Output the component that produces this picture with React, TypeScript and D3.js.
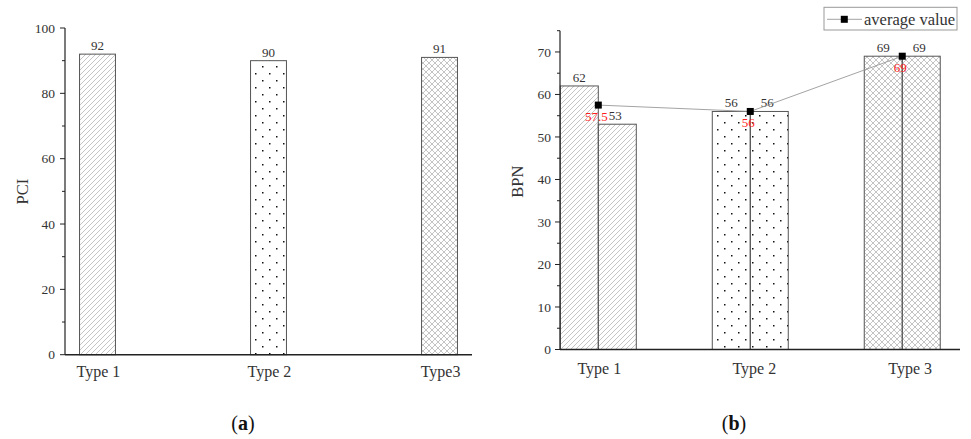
import React from "react";
import * as d3 from "d3";

const categoriesA = ["Type 1", "Type 2", "Type3"];
const pciValues = [92, 90, 91];
const yMajorA = [0, 20, 40, 60, 80, 100];
const yMinorA = [10, 30, 50, 70, 90];

const categoriesB = ["Type 1", "Type 2", "Type 3"];
const bpnFirst = [62, 56, 69];
const bpnSecond = [53, 56, 69];
const averageValues = [57.5, 56, 69];
const averageLabels = ["57.5", "56", "69"];
const yMajorB = [0, 10, 20, 30, 40, 50, 60, 70];
const yMinorB = [5, 15, 25, 35, 45, 55, 65, 75];

const patterns = ["diag", "dots", "cross"];
const FONT = "Liberation Serif, Times New Roman, serif";
const TXT = "#333";
const ts = { fontFamily: FONT };

export default function App() {
  // Panel (a)
  const xA = d3.scaleLinear().domain([0.81, 3.19]).range([65, 472]);
  const yA = d3.scaleLinear().domain([0, 100]).range([354.7, 28]);
  const bwA = xA(1.21) - xA(1);

  // Panel (b)
  const xB = d3.scaleLinear().domain([0.748, 3.38]).range([560, 960]);
  const yB = d3.scaleLinear().domain([0, 75]).range([349.5, 30.7]);
  const bwB = xB(1.25) - xB(1);

  const avgLine = d3
    .line<number>()
    .x((_, i) => xB(i + 1))
    .y((d) => yB(d));

  return (
    <svg
      width={971}
      height={439}
      style={{ position: "absolute", left: 0, top: 0, background: "#fff", fontFamily: FONT }}
    >
      <defs>
        <pattern id="diag" width={5} height={5} patternUnits="userSpaceOnUse">
          <path d="M-1,1 l2,-2 M0,5 l5,-5 M4,6 l2,-2" stroke="#aaa" strokeWidth={0.7} />
        </pattern>
        <pattern id="dots" width={14} height={14} patternUnits="userSpaceOnUse">
          <rect x={3} y={3} width={1.5} height={1.5} fill="#111" />
          <rect x={10} y={10} width={1.5} height={1.5} fill="#111" />
        </pattern>
        <pattern id="cross" width={6} height={6} patternUnits="userSpaceOnUse">
          <path
            d="M-1,1 l2,-2 M0,6 l6,-6 M5,7 l2,-2 M-1,5 l2,2 M0,0 l6,6 M5,-1 l2,2"
            stroke="#aaa"
            strokeWidth={0.7}
          />
        </pattern>
      </defs>

      {/* ===== Panel (a) ===== */}
      <g>
        {pciValues.map((v, i) => (
          <g key={i}>
            <rect
              x={xA(i + 1) - bwA / 2}
              y={yA(v)}
              width={bwA}
              height={yA(0) - yA(v)}
              fill={`url(#${patterns[i]})`}
              stroke="#555"
              strokeWidth={1}
            />
            <text style={ts}
              x={xA(i + 1)}
              y={yA(v) - 4}
              textAnchor="middle"
              fontSize={13}
              fill={TXT}
            >
              {v}
            </text>
          </g>
        ))}
        {/* axes */}
        <line x1={xA.range()[0]} x2={xA.range()[0]} y1={yA(0)} y2={yA(100)} stroke="#222" strokeWidth={1.2} />
        <line x1={xA.range()[0]} x2={xA.range()[1]} y1={yA(0)} y2={yA(0)} stroke="#222" strokeWidth={1.4} />
        {yMajorA.map((t) => (
          <g key={t}>
            <line x1={xA.range()[0] - 5} x2={xA.range()[0]} y1={yA(t)} y2={yA(t)} stroke="#222" />
            <text style={ts} x={xA.range()[0] - 10} y={yA(t)} dy="0.35em" textAnchor="end" fontSize={13.5} fill={TXT}>
              {t}
            </text>
          </g>
        ))}
        {yMinorA.map((t) => (
          <line key={t} x1={xA.range()[0] - 3} x2={xA.range()[0]} y1={yA(t)} y2={yA(t)} stroke="#222" />
        ))}
        {categoriesA.map((c, i) => (
          <text style={ts} key={c} x={xA(i + 1) + 1} y={377} textAnchor="middle" fontSize={16} fill={TXT}>
            {c}
          </text>
        ))}
        <text style={ts}
          transform={`translate(28,191.7) rotate(-90)`}
          textAnchor="middle"
          fontSize={16.5}
          fill={TXT}
        >
          PCI
        </text>
        <text style={ts} x={243} y={430} textAnchor="middle" fontSize={20} fill="#111">
          (<tspan fontWeight="bold">a</tspan>)
        </text>
      </g>

      {/* ===== Panel (b) ===== */}
      <g>
        {categoriesB.map((c, i) => (
          <g key={c}>
            <rect
              x={xB(i + 1) - bwB}
              y={yB(bpnFirst[i])}
              width={bwB}
              height={yB(0) - yB(bpnFirst[i])}
              fill={`url(#${patterns[i]})`}
              stroke="#555"
              strokeWidth={1}
            />
            <rect
              x={xB(i + 1)}
              y={yB(bpnSecond[i])}
              width={bwB}
              height={yB(0) - yB(bpnSecond[i])}
              fill={`url(#${patterns[i]})`}
              stroke="#555"
              strokeWidth={1}
            />
            <text style={ts} x={xB(i + 1) - bwB / 2} y={yB(bpnFirst[i]) - 4} textAnchor="middle" fontSize={13} fill={TXT}>
              {bpnFirst[i]}
            </text>
            <text style={ts} x={xB(i + 1) + bwB / 2 - 2} y={yB(bpnSecond[i]) - 4} textAnchor="middle" fontSize={13} fill={TXT}>
              {bpnSecond[i]}
            </text>
          </g>
        ))}
        {/* axes */}
        <line x1={xB.range()[0]} x2={xB.range()[0]} y1={yB(0)} y2={yB(75)} stroke="#222" strokeWidth={1.2} />
        <line x1={xB.range()[0]} x2={xB.range()[1]} y1={yB(0)} y2={yB(0)} stroke="#222" strokeWidth={1.4} />
        {yMajorB.map((t) => (
          <g key={t}>
            <line x1={xB.range()[0] - 5} x2={xB.range()[0]} y1={yB(t)} y2={yB(t)} stroke="#222" />
            <text style={ts} x={xB.range()[0] - 9} y={yB(t)} dy="0.35em" textAnchor="end" fontSize={13.5} fill={TXT}>
              {t}
            </text>
          </g>
        ))}
        {yMinorB.map((t) => (
          <line key={t} x1={xB.range()[0] - 3} x2={xB.range()[0]} y1={yB(t)} y2={yB(t)} stroke="#222" />
        ))}
        {categoriesB.map((c, i) => (
          <text style={ts} key={c} x={xB(i + 1) + [1, 4, 8][i]} y={374} textAnchor="middle" fontSize={16} fill={TXT}>
            {c}
          </text>
        ))}
        <text style={ts}
          transform={`translate(523,181.7) rotate(-90)`}
          textAnchor="middle"
          fontSize={16.5}
          fill={TXT}
        >
          BPN
        </text>

        {/* average line */}
        <path d={avgLine(averageValues) || ""} fill="none" stroke="#999" strokeWidth={0.9} />
        {averageValues.map((v, i) => (
          <g key={i}>
            <rect x={xB(i + 1) - 3.5} y={yB(v) - 3.5} width={7} height={7} fill="#000" />
            <text style={ts} x={xB(i + 1) - 2} y={yB(v) + 15.5} textAnchor="middle" fontSize={13} fill="#ff2020">
              {averageLabels[i]}
            </text>
          </g>
        ))}

        {/* legend */}
        <rect x={824} y={7.3} width={133} height={22.7} fill="#fff" stroke="#999" strokeWidth={1} />
        <line x1={827} x2={862} y1={19.3} y2={19.3} stroke="#999" strokeWidth={0.9} />
        <rect x={844.3 - 3.5} y={19.3 - 3.5} width={7} height={7} fill="#000" />
        <text style={ts} x={864} y={24.5} fontSize={16.5} fill={TXT}>
          average value
        </text>

        <text style={ts} x={734} y={430} textAnchor="middle" fontSize={20} fill="#111">
          (<tspan fontWeight="bold">b</tspan>)
        </text>
      </g>
    </svg>
  );
}
